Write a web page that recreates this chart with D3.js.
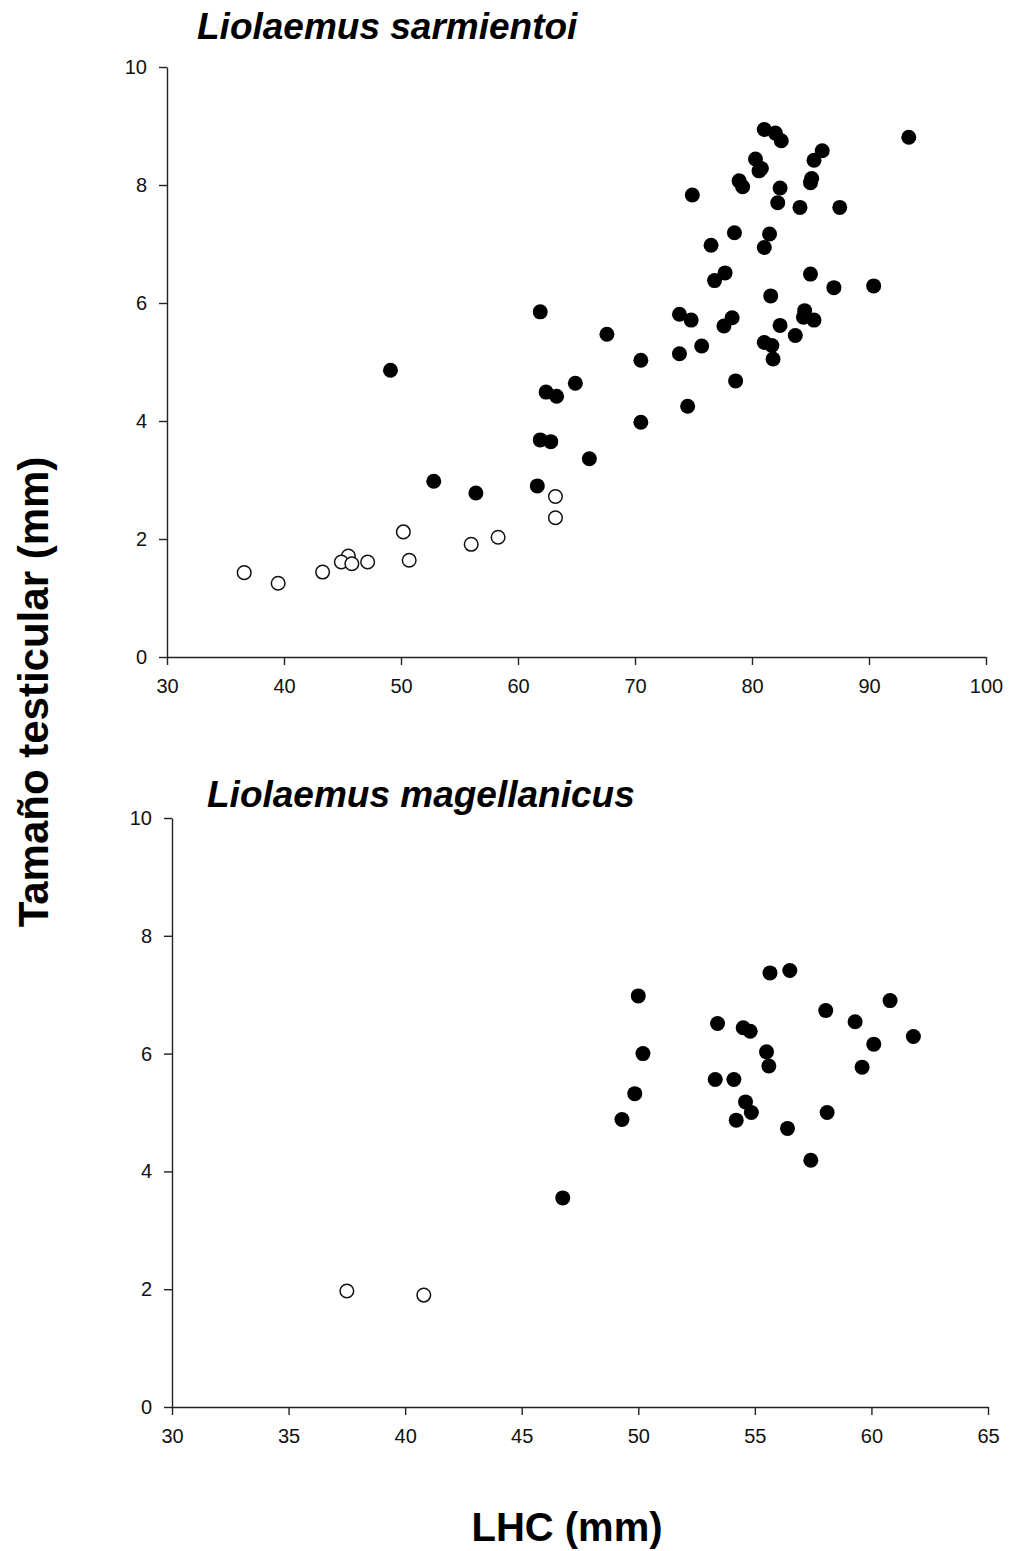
<!DOCTYPE html>
<html>
<head>
<meta charset="utf-8">
<script src="https://cdn.jsdelivr.net/npm/d3@7"></script>
<style>
  body { margin: 0; background: #fff; }
</style>
</head>
<body>
<div id="chart"></div>
<script>
// L. sarmientoi: adults (filled) and juveniles (open)
var sarmAdultLHC = [49.1, 52.8, 56.4, 61.65, 66.1, 61.9, 62.8, 70.5, 74.5, 62.4, 63.3, 64.9, 78.6, 70.5, 73.8,
  75.7, 67.6, 61.9, 73.8, 74.8, 78.3, 77.6, 81.05, 81.7, 81.8, 83.7, 82.4, 84.5, 84.4, 85.3, 81.6, 85.0, 87.0,
  90.4, 77.7, 76.8, 76.5, 78.5, 81.5, 81.05, 74.9, 82.2, 84.1, 87.5, 78.9, 79.2, 82.4, 85.1, 85.0, 80.8, 80.6,
  80.3, 85.3, 86.0, 81.05, 82.0, 82.5, 93.4];
var sarmAdultTest = [4.86, 2.98, 2.78, 2.90, 3.36, 3.68, 3.65, 3.98, 4.25, 4.49, 4.42, 4.64, 4.68, 5.03, 5.14,
  5.27, 5.47, 5.85, 5.81, 5.71, 5.75, 5.61, 5.33, 5.28, 5.05, 5.45, 5.62, 5.87, 5.76, 5.71, 6.12, 6.49, 6.26,
  6.29, 6.51, 6.38, 6.98, 7.19, 7.17, 6.94, 7.83, 7.70, 7.62, 7.62, 8.07, 7.97, 7.95, 8.11, 8.04, 8.28, 8.24,
  8.44, 8.42, 8.58, 8.94, 8.88, 8.75, 8.81];
var sarmJuvLHC = [36.6, 39.5, 43.3, 45.5, 44.9, 45.8, 47.15, 50.2, 50.7, 56.0, 58.3, 63.2, 63.2];
var sarmJuvTest = [1.43, 1.25, 1.44, 1.71, 1.61, 1.58, 1.61, 2.12, 1.64, 1.91, 2.03, 2.72, 2.36];

// L. magellanicus
var magAdultLHC = [55.65, 56.5, 50.0, 60.8, 58.04, 59.3, 53.4, 54.5, 54.8, 61.8, 60.1, 55.5, 55.6, 50.2, 59.6,
  53.3, 54.1, 49.85, 54.6, 54.85, 54.2, 58.1, 49.3, 56.4, 57.4, 46.76];
var magAdultTest = [7.37, 7.41, 6.98, 6.90, 6.73, 6.54, 6.51, 6.44, 6.38, 6.29, 6.16, 6.03, 5.79, 6.00, 5.77,
  5.56, 5.56, 5.32, 5.18, 5.00, 4.87, 5.00, 4.88, 4.73, 4.19, 3.55];
var magJuvLHC = [37.5, 40.8];
var magJuvTest = [1.97, 1.90];

var yTicks = [0, 2, 4, 6, 8, 10];
var sarmXTicks = [30, 40, 50, 60, 70, 80, 90, 100];
var magXTicks = [30, 35, 40, 45, 50, 55, 60, 65];

var W = 1009, H = 1551;
var font = "Liberation Sans, Arial, sans-serif";
var svg = d3.select("#chart").append("svg")
    .attr("width", W)
    .attr("height", H);

function zip(xs, ys) {
  return xs.map(function(v, i) { return {x: v, y: ys[i]}; });
}

function styleAxis(g) {
  g.selectAll("path, line").style("stroke", "#222").style("stroke-width", 1.4);
  g.selectAll("text").style("font-family", font).style("font-size", "20px").style("fill", "#111");
}

function panel(opts) {
  var xScale = d3.scaleLinear().domain(opts.xDomain).range([opts.left, opts.right]);
  var yScale = d3.scaleLinear().domain([0, 10]).range([opts.bottom, opts.top]);

  svg.append("g")
      .attr("transform", "translate(0," + opts.bottom + ")")
      .call(d3.axisBottom(xScale).tickValues(opts.xTicks).tickSize(8).tickSizeOuter(0).tickPadding(14))
      .call(styleAxis);
  svg.append("g")
      .attr("transform", "translate(" + opts.left + ",0)")
      .call(d3.axisLeft(yScale).tickValues(yTicks).tickSize(8).tickSizeOuter(0).tickPadding(12))
      .call(styleAxis);

  // filled = adults
  svg.append("g").selectAll("circle").data(zip(opts.adultX, opts.adultY)).enter()
      .append("circle")
      .attr("cx", function(d) { return xScale(d.x); })
      .attr("cy", function(d) { return yScale(d.y); })
      .attr("r", 7.5)
      .style("fill", "#000");
  // open = juveniles
  svg.append("g").selectAll("circle").data(zip(opts.juvX, opts.juvY)).enter()
      .append("circle")
      .attr("cx", function(d) { return xScale(d.x); })
      .attr("cy", function(d) { return yScale(d.y); })
      .attr("r", 6.8)
      .style("fill", "#fff")
      .style("stroke", "#111")
      .style("stroke-width", 1.5);

  svg.append("text")
      .attr("x", opts.titleX).attr("y", opts.titleY)
      .text(opts.title)
      .style("font-family", font)
      .style("font-size", "37px")
      .style("font-weight", "bold")
      .style("font-style", "italic");
}

panel({
  xDomain: [30, 100], left: 167, right: 986, top: 67, bottom: 657,
  xTicks: sarmXTicks,
  adultX: sarmAdultLHC, adultY: sarmAdultTest, juvX: sarmJuvLHC, juvY: sarmJuvTest,
  title: "Liolaemus sarmientoi", titleX: 197, titleY: 39
});

panel({
  xDomain: [30, 65], left: 172, right: 988, top: 818, bottom: 1407,
  xTicks: magXTicks,
  adultX: magAdultLHC, adultY: magAdultTest, juvX: magJuvLHC, juvY: magJuvTest,
  title: "Liolaemus magellanicus", titleX: 207, titleY: 807
});

// shared axis labels
svg.append("text")
    .attr("transform", "translate(48,692) rotate(-90)")
    .attr("text-anchor", "middle")
    .text("Tamaño testicular (mm)")
    .style("font-family", font)
    .style("font-size", "42px")
    .style("font-weight", "bold");

svg.append("text")
    .attr("x", 567).attr("y", 1541)
    .attr("text-anchor", "middle")
    .text("LHC (mm)")
    .style("font-family", font)
    .style("font-size", "40px")
    .style("font-weight", "bold");
</script>
</body>
</html>
